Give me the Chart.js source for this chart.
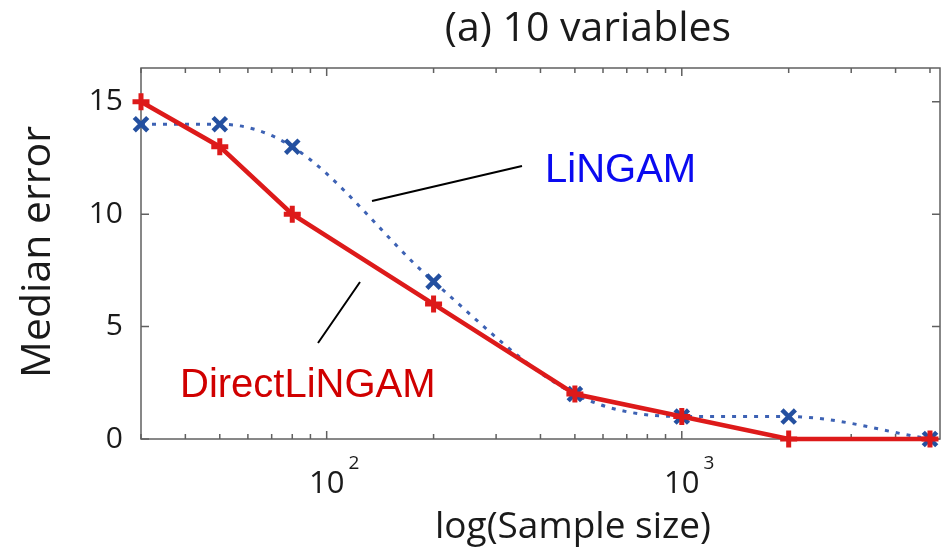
<!DOCTYPE html>
<html lang="en">
<head>
  <meta charset="UTF-8" />
  <title>(a) 10 variables</title>
  <script src="https://cdn.jsdelivr.net/npm/chart.js"></script>
  <style>
    * { margin: 0; padding: 0; box-sizing: border-box; }
    body { background: #fff; overflow: hidden; }
    .wrap { width: 941px; height: 555px; position: relative; }
  </style>
</head>
<body>
  <div class="wrap">
    <canvas id="errChart"></canvas>
  </div>

  <script>
    // data
    const sampleSizes = [30, 50, 80, 200, 500, 1000, 2000, 5000];
    const directLingam = [15, 13, 10, 6, 2, 1, 0, 0];
    const lingam = [14, 14, 13, 7, 2, 1, 1, 0];

    // axis ticks
    const yTicks = [0, 5, 10, 15];
    const xMajor = [100, 1000];
    const xMinor = [30, 40, 50, 60, 70, 80, 90, 200, 300, 400, 500, 600, 700, 800, 900, 2000, 3000, 4000, 5000];

    const axisFont = '"Open Sans", "Noto Sans", sans-serif';
    const noteFont = '"Liberation Sans", Arial, sans-serif';

    function toPoints(ys) {
      return sampleSizes.map((x, i) => ({ x: x, y: ys[i] }));
    }

    const frame = {
      id: 'frame',
      beforeDatasetsDraw(chart) {
        const { ctx, chartArea: a, scales: { x, y } } = chart;
        ctx.save();
        ctx.strokeStyle = '#606060';
        ctx.lineWidth = 1.5;
        ctx.strokeRect(a.left, a.top, a.right - a.left - 1, a.bottom - a.top);

        ctx.beginPath();
        xMinor.concat(xMajor).forEach(v => {
          const px = x.getPixelForValue(v);
          const len = xMajor.includes(v) ? 8 : 5;
          ctx.moveTo(px, a.bottom);
          ctx.lineTo(px, a.bottom - len);
          ctx.moveTo(px, a.top);
          ctx.lineTo(px, a.top + len);
        });
        yTicks.forEach(v => {
          const py = y.getPixelForValue(v);
          ctx.moveTo(a.left, py);
          ctx.lineTo(a.left + 8, py);
          ctx.moveTo(a.right - 1, py);
          ctx.lineTo(a.right - 9, py);
        });
        ctx.stroke();
        ctx.restore();
      },
      afterDraw(chart) {
        const { ctx, chartArea: a, scales: { x, y } } = chart;
        ctx.save();
        ctx.fillStyle = '#1a1a1a';

        // y tick labels
        ctx.font = '30px ' + axisFont;
        ctx.textAlign = 'right';
        ctx.textBaseline = 'middle';
        yTicks.forEach(v => {
          ctx.fillText(String(v), a.left - 18, y.getPixelForValue(v));
        });

        // x tick labels 10^n
        xMajor.forEach(v => {
          const px = x.getPixelForValue(v);
          ctx.font = '31px ' + axisFont;
          ctx.textAlign = 'center';
          ctx.textBaseline = 'middle';
          ctx.fillText('10', px, 484);
          const w = ctx.measureText('10').width;
          ctx.font = '19px ' + axisFont;
          ctx.textAlign = 'left';
          ctx.fillText(String(Math.round(Math.log10(v))), px + w / 2 + 4, 464);
        });

        // titles
        ctx.textAlign = 'center';
        ctx.textBaseline = 'middle';
        ctx.font = '41px ' + axisFont;
        ctx.fillText('(a) 10 variables', 588, 29);
        ctx.font = '37px ' + axisFont;
        ctx.fillText('log(Sample size)', 573, 527);

        ctx.save();
        ctx.translate(38, 252);
        ctx.rotate(-Math.PI / 2);
        ctx.font = '41px ' + axisFont;
        ctx.fillText('Median error', 0, 0);
        ctx.restore();

        // annotations
        ctx.strokeStyle = '#000';
        ctx.lineWidth = 2;
        ctx.beginPath();
        ctx.moveTo(372, 201);
        ctx.lineTo(522, 166);
        ctx.moveTo(360, 282);
        ctx.lineTo(318, 343);
        ctx.stroke();

        ctx.font = '40px ' + noteFont;
        ctx.textAlign = 'left';
        ctx.textBaseline = 'alphabetic';
        ctx.fillStyle = '#0a0af0';
        ctx.fillText('LiNGAM', 545, 182);
        ctx.fillStyle = '#d00000';
        ctx.fillText('DirectLiNGAM', 180, 397);
        ctx.restore();
      }
    };

    new Chart(document.getElementById('errChart'), {
      type: 'line',
      data: {
        datasets: [
          {
            label: 'DirectLiNGAM',
            data: toPoints(directLingam),
            borderColor: '#dd1a1a',
            borderWidth: 4.5,
            pointStyle: 'cross',
            pointRadius: 8.5,
            pointBorderWidth: 5,
            pointBorderColor: '#dd1a1a',
            tension: 0,
            clip: false
          },
          {
            label: 'LiNGAM',
            data: toPoints(lingam),
            borderColor: '#3d62b4',
            borderWidth: 3,
            borderDash: [4, 7],
            pointStyle: 'crossRot',
            pointRadius: 9.5,
            pointBorderWidth: 4.5,
            pointBorderColor: '#2450a0',
            cubicInterpolationMode: 'monotone',
            clip: false
          }
        ]
      },
      options: {
        responsive: true,
        maintainAspectRatio: false,
        animation: false,
        layout: { autoPadding: false, padding: { left: 141, right: 0, top: 68, bottom: 116 } },
        plugins: { legend: { display: false }, tooltip: { enabled: false }, title: { display: false } },
        scales: {
          x: { type: 'logarithmic', min: 30, max: 5370, display: false },
          y: { type: 'linear', min: 0, max: 16.5, display: false }
        }
      },
      plugins: [frame]
    });
  </script>
</body>
</html>
